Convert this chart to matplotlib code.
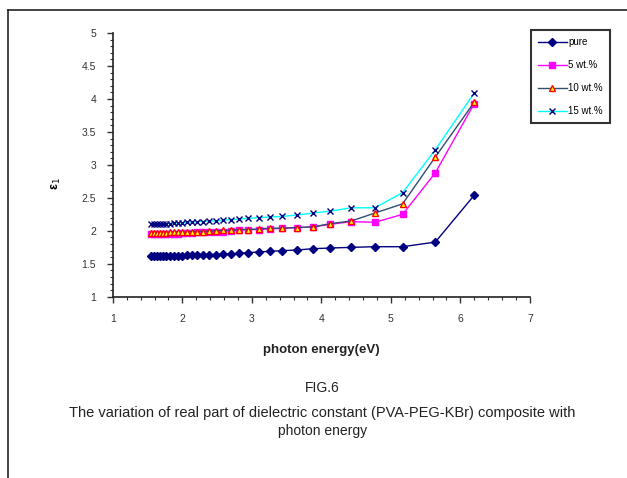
import numpy as np
import matplotlib.pyplot as plt
from matplotlib.lines import Line2D

plt.rcParams['font.family'] = ['Liberation Sans', 'DejaVu Sans']

# photon energy (eV), one point per 20 nm from 800 nm down to 200 nm
energy = [1.55, 1.59, 1.63, 1.68, 1.72, 1.77, 1.82, 1.88, 1.94, 2.00, 2.07,
          2.14, 2.21, 2.30, 2.38, 2.48, 2.58, 2.70, 2.82, 2.95, 3.10, 3.26,
          3.44, 3.65, 3.88, 4.13, 4.43, 4.77, 5.17, 5.64, 6.20]

pure = [1.62, 1.62, 1.62, 1.62, 1.62, 1.62, 1.62, 1.62, 1.62, 1.62, 1.63,
        1.63, 1.63, 1.64, 1.64, 1.64, 1.65, 1.65, 1.66, 1.67, 1.68, 1.69,
        1.70, 1.71, 1.73, 1.74, 1.75, 1.76, 1.76, 1.83, 2.54]
wt5 = [1.95, 1.95, 1.95, 1.95, 1.95, 1.96, 1.96, 1.96, 1.96, 1.97, 1.97,
       1.97, 1.98, 1.98, 1.98, 1.99, 1.99, 2.00, 2.01, 2.02, 2.02, 2.03,
       2.04, 2.05, 2.06, 2.10, 2.14, 2.13, 2.25, 2.88, 3.93]
wt10 = [1.97, 1.97, 1.97, 1.97, 1.97, 1.97, 1.98, 1.98, 1.98, 1.98, 1.98,
        1.99, 1.99, 1.99, 2.00, 2.00, 2.01, 2.01, 2.02, 2.02, 2.03, 2.04,
        2.04, 2.05, 2.06, 2.11, 2.15, 2.27, 2.41, 3.12, 3.95]
wt15 = [2.10, 2.10, 2.10, 2.10, 2.11, 2.11, 2.11, 2.12, 2.12, 2.12, 2.13,
        2.13, 2.14, 2.14, 2.15, 2.15, 2.16, 2.17, 2.18, 2.19, 2.20, 2.21,
        2.22, 2.24, 2.27, 2.30, 2.35, 2.35, 2.58, 3.23, 4.09]

labels = ['pure', '5 wt.%', '10 wt.%', '15 wt.%']

fig = plt.figure(figsize=(6.27, 4.78), dpi=100)
ax = fig.add_axes([0.180, 0.379, 0.665, 0.552])

ax.plot(energy, pure, color='#000080', lw=1, marker='D', ms=4, label=labels[0])
ax.plot(energy, wt5, color='#FF00FF', lw=1, marker='s', ms=4.5, label=labels[1])
ax.plot(energy, wt10, color='#2F4F6F', lw=1, marker='^', ms=5,
        mfc='#FFFF00', mec='#FF0000', mew=1, label=labels[2])
ax.plot(energy, wt15, color='#00FFFF', lw=1, marker='x', ms=5,
        mec='#000080', mew=1, label=labels[3])

ax.set_xlim(1, 7)
ax.set_ylim(1, 5)
ax.set_xticks(range(1, 8))
ax.set_yticks(np.arange(1, 5.01, 0.5))
ax.set_yticklabels(['1', '1.5', '2', '2.5', '3', '3.5', '4', '4.5', '5'])
ax.set_xticks(np.arange(1, 7.01, 0.2), minor=True)
ax.set_yticks(np.arange(1, 5.01, 0.1), minor=True)
ax.tick_params(which='major', length=4, width=1, labelsize=7.5, colors='#333333', pad=8)
ax.tick_params(which='minor', length=2, width=0.8, color='#333333')
for s in ['top', 'right']:
    ax.spines[s].set_visible(False)
for s in ['left', 'bottom']:
    ax.spines[s].set_linewidth(1.2)
    ax.spines[s].set_color('#222222')

ax.set_xlabel('photon energy(eV)', fontsize=9.5, fontweight='bold', color='#222222')
ax.xaxis.set_label_coords(0.5, -0.18)
ax.set_ylabel('ε$_1$', fontsize=9, fontweight='bold')
ax.yaxis.set_label_coords(-0.12, 0.43)

leg = ax.legend(loc='upper left', bbox_to_anchor=(0.847, 0.937),
                bbox_transform=fig.transFigure, borderaxespad=0, fontsize=7,
                frameon=True, fancybox=False, edgecolor='black', borderpad=0.7,
                labelspacing=1.35, handlelength=3.0, handletextpad=0.15)
leg.get_frame().set_linewidth(1.5)

fig.text(0.514, 0.180, 'FIG.6', ha='center', fontsize=10, color='#222222')
fig.text(0.514, 0.127, 'The variation of real part of dielectric constant (PVA-PEG-KBr) composite with',
         ha='center', fontsize=10.5, color='#222222')
fig.text(0.514, 0.089, 'photon energy', ha='center', fontsize=10, color='#222222')

# outer frame of the page figure
fig.add_artist(Line2D([0.012, 0.012], [0.0, 0.980], transform=fig.transFigure, color='#222222', lw=1.2))
fig.add_artist(Line2D([0.012, 1.0], [0.980, 0.980], transform=fig.transFigure, color='#222222', lw=1.2))

fig.savefig('out.png', dpi=100)
